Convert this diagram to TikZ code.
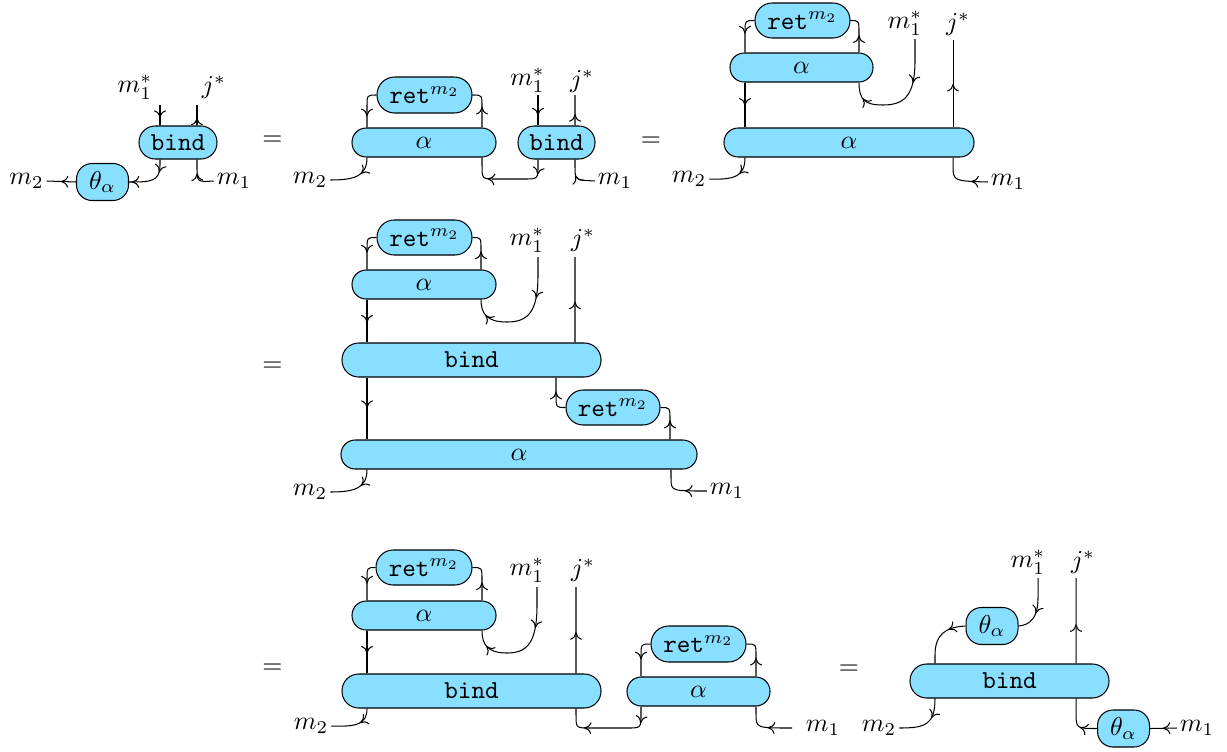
\documentclass[tikz,border=0pt]{standalone}
\usetikzlibrary{calc,decorations.markings}
\definecolor{boxc}{RGB}{136,223,255}
\tikzset{
  bx/.style 2 args={draw, fill=boxc, inner sep=0pt, minimum width=#1*0.3867pt, minimum height=#2*0.3867pt, rounded corners=#2*0.19pt},
  th/.style={draw, fill=boxc, inner sep=0pt, minimum width=52*0.3867pt, minimum height=37*0.3867pt, rounded corners=6pt},
  lab/.style={inner sep=1pt},
  ar/.style={postaction={decorate, decoration={markings, mark=at position #1 with {\draw[line width=0.4pt] (-2.5pt,2.2pt) .. controls (-2.1pt,0.9pt) and (-1.1pt,0.1pt) .. (0pt,0pt) .. controls (-1.1pt,-0.1pt) and (-2.1pt,-0.9pt) .. (-2.5pt,-2.2pt);}}}},
}
\begin{document}
\begin{tikzpicture}[x=0.3867pt, y=-0.3867pt, line width=0.4pt]
\useasboundingbox (0,0) rectangle (1227,751);
% ---------- diagram 1
\node[bx={78}{33}] (b1) at (178,142.5) {\texttt{bind}};
\node[th] (t1) at (102.5,182) {$\theta_\alpha$};
\node[lab] (l1a) at (135,87) {$m_1^*$};
\node[lab] (l1b) at (214,87) {$j^*$};
\node[lab] (l1c) at (26.5,181) {$m_2$};
\node[lab] (l1d) at (234,181) {$m_1$};
\coordinate (w1a) at (160,105);
\coordinate (w1b) at (197,105);
\draw[ar=0.6] (w1a) -- ($(b1.north)+(-18,0)$);
\draw[ar=0.35] ($(b1.north)+(19,0)$) -- (w1b);
\draw[ar=0.26, ar=0.93] ($(b1.south)+(-18,0)$) -- (160,165) .. controls (160,182) and (150,182) .. (t1.east);
\draw[ar=0.6] (l1d.west) .. controls (197,182) .. (197,168) -- ($(b1.south)+(19,0)$);
\draw[ar=0.5] (t1.west) -- (l1c.east);
\node (e1) at (272.5,141) {$=$};
% ---------- diagram 2
\node[bx={144}{29}] (a2) at (424,142.5) {$\alpha$};
\node[bx={95}{36}] (r2) at (424.5,95) {$\mathtt{ret}^{m_2}$};
\node[bx={77}{33}] (b2) at (556.5,142.5) {\texttt{bind}};
\node[lab] (l2a) at (527.5,80) {$m_1^*$};
\node[lab] (l2b) at (582,81) {$j^*$};
\node[lab] (l2c) at (310,180) {$m_2$};
\node[lab] (l2d) at (615,181) {$m_1$};
\coordinate (w2a) at (538,95);
\coordinate (w2b) at (575,95);
\draw[ar=0.7] (r2.west) .. controls (367,95) .. (367,107) -- ($(a2.north)+(-57,0)$);
\draw[ar=0.5] ($(a2.north)+(58,0)$) -- (482,107) .. controls (482,95) .. (r2.east);
\draw[ar=0.65] (w2a) -- ($(b2.north)+(-18.5,0)$);
\draw[ar=0.35] ($(b2.north)+(18.5,0)$) -- (w2b);
\draw[ar=0.35] ($(a2.south)+(-57,0)$) .. controls (367,176) and (355,180) .. (l2c.east);
\draw[ar=0.16, ar=0.73] ($(b2.south)+(-18.5,0)$) -- (538,165) .. controls (538,179) .. (524,179) -- (496,179) .. controls (482,179) .. (482,165) -- ($(a2.south)+(58,0)$);
\draw[ar=0.55] (l2d.west) .. controls (575,180) .. (575,167) -- ($(b2.south)+(18.5,0)$);
\node (e2) at (651,142) {$=$};
% ---------- diagram 3
\node[bx={95}{35}] (r3) at (802.5,20.5) {$\mathtt{ret}^{m_2}$};
\node[bx={143}{29}] (a3u) at (801.5,67.5) {$\alpha$};
\node[bx={250}{29}] (a3) at (849,142.5) {$\alpha$};
\node[lab] (l3a) at (905,23) {$m_1^*$};
\node[lab] (l3b) at (958,24) {$j^*$};
\node[lab] (l3c) at (689,179) {$m_2$};
\node[lab] (l3d) at (1008,182) {$m_1$};
\coordinate (w3a) at (915,39);
\coordinate (w3b) at (953,40);
\draw[ar=0.5] (r3.west) .. controls (745,20.5) .. (745,32) -- ($(a3u.north)+(-56.5,0)$);
\draw[ar=0.43] ($(a3u.north)+(57.5,0)$) -- (859,33) .. controls (859,20.5) .. (r3.east);
\draw[ar=0.5] ($(a3u.south)+(-56.5,0)$) -- ($(a3.north)+(-104,0)$);
\draw[ar=0.35, ar=0.86] (w3a) -- (915,60) .. controls (915,95) and (905,105) .. (883,105) .. controls (865,105) and (859,100) .. ($(a3u.south)+(57.5,0)$);
\draw[ar=0.49] ($(a3.north)+(104,0)$) -- (w3b);
\draw[ar=0.35] ($(a3.south)+(-104,0)$) .. controls (745,176) and (735,180) .. (l3c.east);
\draw[ar=0.3] (l3d.west) .. controls (953,181) .. (953,165) -- ($(a3.south)+(104,0)$);
% ---------- diagram 4
\node (e4) at (272.5,367) {$=$};
\node[bx={95}{35}] (r4) at (424.5,237.5) {$\mathtt{ret}^{m_2}$};
\node[bx={144}{29}] (a4u) at (424,284.5) {$\alpha$};
\node[bx={259}{34}] (b4) at (471.5,360) {\texttt{bind}};
\node[bx={94}{35}] (r4l) at (613,407.5) {$\mathtt{ret}^{m_2}$};
\node[bx={356}{29}] (a4) at (519,454.5) {$\alpha$};
\node[lab] (l4a) at (527,240) {$m_1^*$};
\node[lab] (l4b) at (583,240) {$j^*$};
\node[lab] (l4c) at (310,492) {$m_2$};
\node[lab] (l4d) at (727,491) {$m_1$};
\coordinate (w4a) at (538,257);
\coordinate (w4b) at (575,257);
\draw[ar=0.55] (r4.west) .. controls (367,237.5) .. (367,250) -- ($(a4u.north)+(-57,0)$);
\draw[ar=0.45] ($(a4u.north)+(57,0)$) -- (481,250) .. controls (481,237.5) .. (r4.east);
\draw[ar=0.33, ar=0.86] (w4a) -- (538,275) .. controls (538,312) and (528,322) .. (507,322) .. controls (488,322) and (481,315) .. ($(a4u.south)+(57,0)$);
\draw[ar=0.47] ($(b4.north)+(103.5,0)$) -- (w4b);
\draw[ar=0.52] ($(a4u.south)+(-57,0)$) -- ($(b4.north)+(-104.5,0)$);
\draw[ar=0.48] ($(b4.south)+(-104.5,0)$) -- ($(a4.north)+(-152,0)$);
\draw[ar=0.6] (r4l.west) .. controls (556,407.5) .. (556,395) -- ($(b4.south)+(84.5,0)$);
\draw[ar=0.46] ($(a4.north)+(151,0)$) -- (670,420) .. controls (670,407.5) .. (r4l.east);
\draw[ar=0.35] ($(a4.south)+(-152,0)$) .. controls (367,488) and (355,492) .. (l4c.east);
\draw[ar=0.4] (l4d.west) .. controls (671,491) .. (671,478) -- ($(a4.south)+(152,0)$);
% ---------- diagram 5
\node (e5) at (272.5,669) {$=$};
\node[bx={96}{35}] (r5) at (424,567.5) {$\mathtt{ret}^{m_2}$};
\node[bx={144}{29}] (a5u) at (424,615.5) {$\alpha$};
\node[bx={259}{34}] (b5) at (471.5,691) {\texttt{bind}};
\node[bx={95}{36}] (r5r) at (698.5,644) {$\mathtt{ret}^{m_2}$};
\node[bx={143}{29}] (a5r) at (698.5,691.5) {$\alpha$};
\node[lab] (l5a) at (527,570) {$m_1^*$};
\node[lab] (l5b) at (583,570) {$j^*$};
\node[lab] (l5c) at (311,726) {$m_2$};
\node[lab] (l5d) at (823,728) {$m_1$};
\coordinate (w5a) at (537,587);
\coordinate (w5b) at (576,587);
\coordinate (w5d) at (792,728);
\draw[ar=0.55] (r5.west) .. controls (367,567.5) .. (367,580) -- ($(a5u.north)+(-57,0)$);
\draw[ar=0.43] ($(a5u.north)+(58,0)$) -- (482,580) .. controls (482,567.5) .. (r5.east);
\draw[ar=0.33, ar=0.86] (w5a) -- (537,605) .. controls (537,643) and (527,653) .. (507,653) .. controls (488,653) and (482,645) .. ($(a5u.south)+(58,0)$);
\draw[ar=0.47] ($(b5.north)+(104.5,0)$) -- (w5b);
\draw[ar=0.52] ($(a5u.south)+(-57,0)$) -- ($(b5.north)+(-104.5,0)$);
\draw[ar=0.35] ($(b5.south)+(-104.5,0)$) .. controls (367,724) and (357,727) .. (l5c.east);
\draw[ar=0.16, ar=0.75] ($(a5r.south)+(-57.5,0)$) -- (641,714) .. controls (641,728) .. (627,728) -- (590,728) .. controls (576,728) .. (576,714) -- ($(b5.south)+(104.5,0)$);
\draw[ar=0.55] (r5r.west) .. controls (641,644) .. (641,656) -- ($(a5r.north)+(-57.5,0)$);
\draw[ar=0.45] ($(a5r.north)+(57.5,0)$) -- (756,656) .. controls (756,644) .. (r5r.east);
\draw[ar=0.45] (w5d) .. controls (756,728) .. (756,714) -- ($(a5r.south)+(57.5,0)$);
% ---------- diagram 6
\node (e6) at (849,670) {$=$};
\node[bx={199}{34}] (b6) at (1009.5,681) {\texttt{bind}};
\node[th] (t6u) at (992,626) {$\theta_\alpha$};
\node[th] (t6l) at (1123.5,728.5) {$\theta_\alpha$};
\node[lab] (l6a) at (1028,562) {$m_1^*$};
\node[lab] (l6b) at (1083,562) {$j^*$};
\node[lab] (l6c) at (879,728) {$m_2$};
\node[lab] (l6d) at (1197,728) {$m_1$};
\coordinate (w6a) at (1038,578);
\coordinate (w6b) at (1076,578);
\draw[ar=0.6] (w6a) -- (1038,598) .. controls (1038,618) and (1030,625) .. (t6u.east);
\draw[ar=0.3] (t6u.west) .. controls (945,627) and (935,635) .. (935,655) -- ($(b6.north)+(-74.5,0)$);
\draw[ar=0.45] ($(b6.north)+(66.5,0)$) -- (w6b);
\draw[ar=0.35] ($(b6.south)+(-74.5,0)$) .. controls (935,725) and (925,728) .. (l6c.east);
\draw[ar=0.35] (t6l.west) .. controls (1076,728.5) .. (1076,712) -- ($(b6.south)+(66.5,0)$);
\draw[ar=0.5] (l6d.west) -- (t6l.east);
\end{tikzpicture}
\end{document}
